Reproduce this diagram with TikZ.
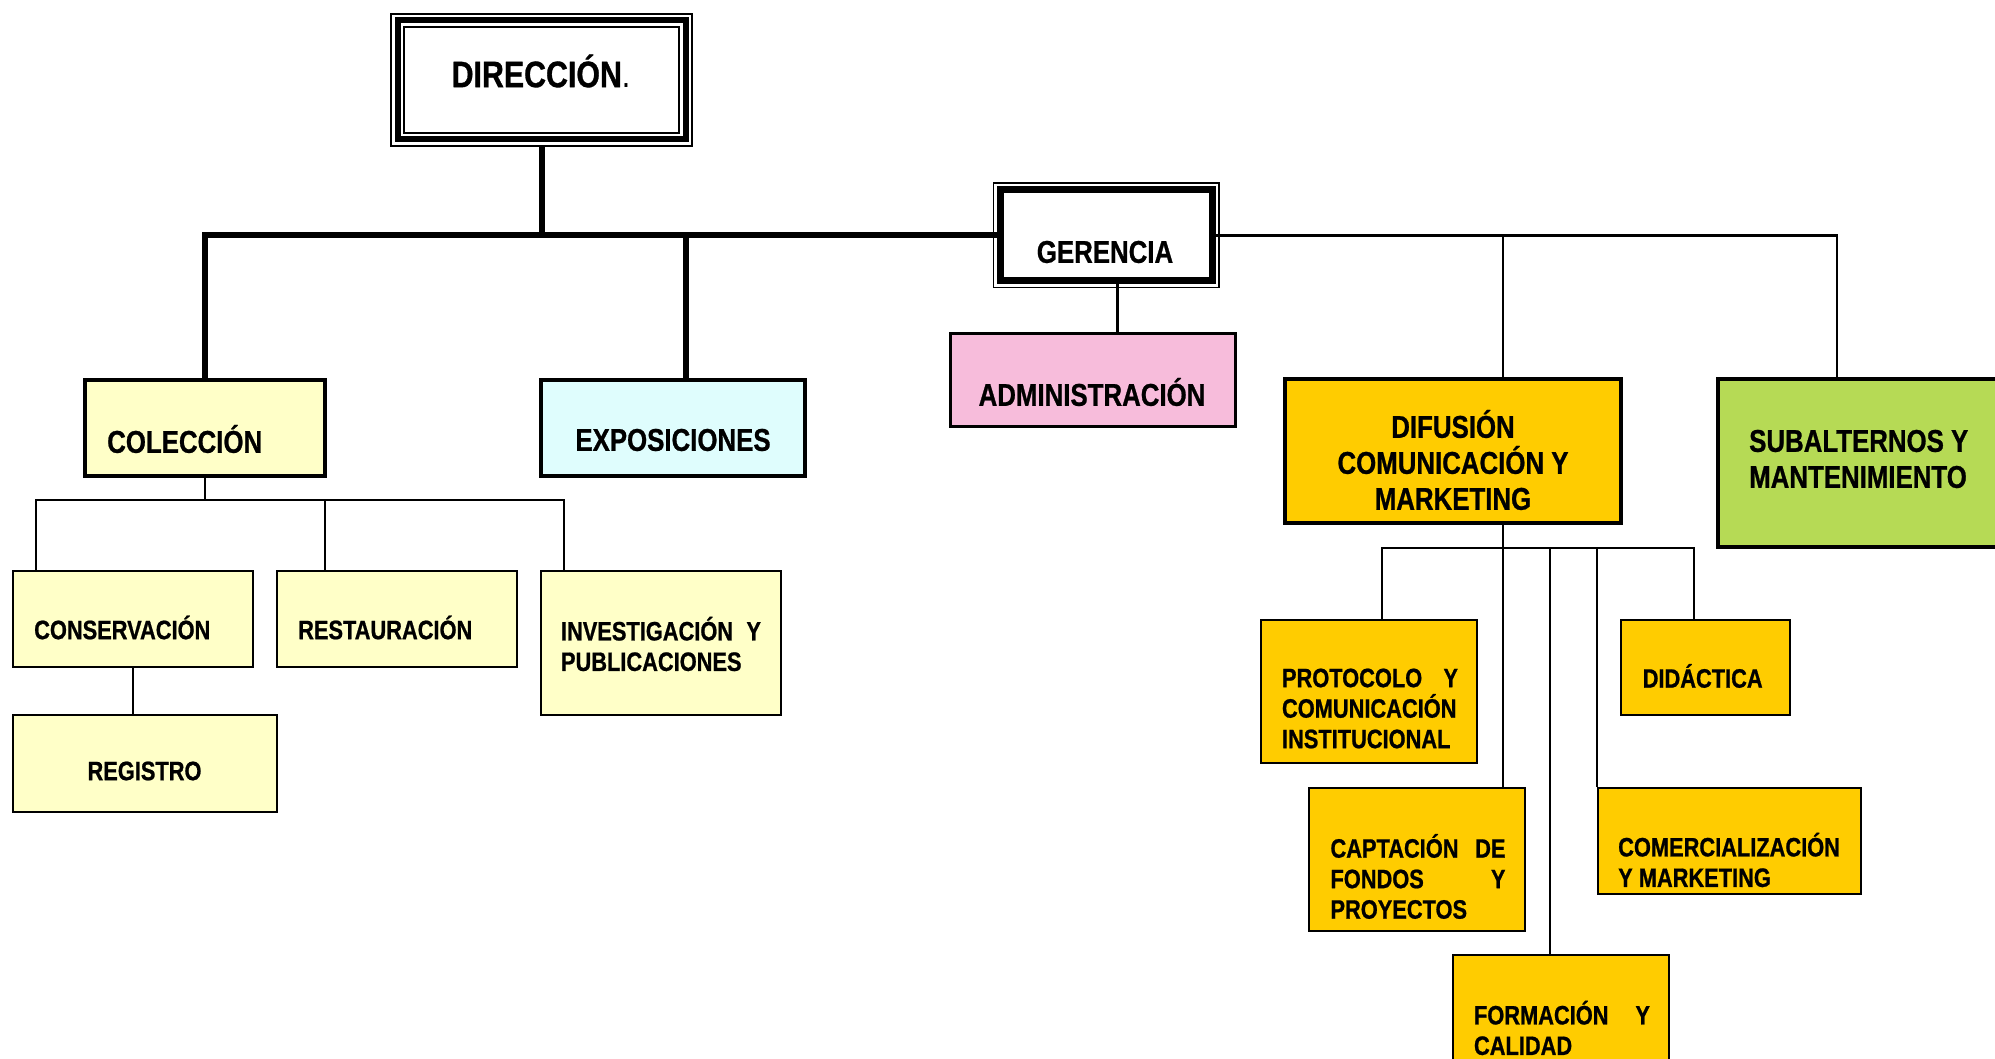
\documentclass[tikz,border=0pt]{standalone}
\usepackage{fontspec}
\setmainfont{Liberation Sans}[FakeStretch=0.82, BoldFeatures={FakeBold=0.8}]
\definecolor{colyellow}{HTML}{FFFFC8}
\definecolor{colcyan}{HTML}{DFFDFD}
\definecolor{colpink}{HTML}{F7BCDB}
\definecolor{colgreen}{HTML}{B6DA55}
\definecolor{colorange}{HTML}{FFCC00}

\begin{document}
\begin{tikzpicture}[x=1pt,y=-1pt,
    every node/.style={inner sep=0pt},
    mainbox/.style={draw, line width=3.5pt},
    subbox/.style={draw, line width=2pt},
    txt/.style={font=\bfseries\fontsize{31.5}{36}\selectfont},
    stxt/.style={font=\bfseries\fontsize{26.6}{30.5}\selectfont},
    heavy/.style={line width=6pt},
    light/.style={line width=2pt}]
        \useasboundingbox (0,0) rectangle (1995,1059);
        \node[draw, line width=6pt, preaction={draw, line width=2pt, double, double distance=11pt},
              minimum width=288pt, minimum height=119pt] (dir) at (541.5,80) {};
        \node[font=\bfseries\fontsize{37}{42}\selectfont] (dirtxt) at (541,71) {DIRECCIÓN{\mdseries .}};
        \node[draw, fill=white, line width=7pt, preaction={draw, line width=1.5pt, double, double distance=12pt},
              minimum width=212pt, minimum height=91pt] (ger) at (1106,235.5) {};
        \node[txt] (gertxt) at (1105,252) {GERENCIA};

        \node[mainbox, fill=colyellow, minimum width=240pt, minimum height=96pt] (col) at (205,428) {};
        \node[txt, anchor=west] (coltxt) at (107,439) {COLECCIÓN};
        \node[mainbox, fill=colcyan, minimum width=264pt, minimum height=96pt] (expo) at (673,428) {};
        \node[txt] (expotxt) at (673,440) {EXPOSICIONES};
        \node[mainbox, fill=colpink, minimum width=285pt, minimum height=93pt] (adm) at (1093,380) {};
        \node[txt] (admtxt) at (1092,392) {ADMINISTRACIÓN};
        \node[mainbox, fill=colorange, minimum width=336pt, minimum height=144pt] (dif) at (1453,451) {};
        \node[txt, align=center] (diftxt) at (1453,460) {DIFUSIÓN\\COMUNICACIÓN Y\\MARKETING};
        \node[mainbox, fill=colgreen, minimum width=292pt, minimum height=168pt] (subal) at (1864,463) {};
        \node[txt, align=left, anchor=west] (subaltxt) at (1749,459) {SUBALTERNOS Y\\MANTENIMIENTO};

        \node[subbox, fill=colyellow, minimum width=240pt, minimum height=96pt] (cons) at (133,619) {};
        \node[stxt, anchor=west] (constxt) at (34,627.5) {CONSERVACIÓN};
        \node[subbox, fill=colyellow, minimum width=240pt, minimum height=96pt] (rest) at (397,619) {};
        \node[stxt, anchor=west] (resttxt) at (298,627.5) {RESTAURACIÓN};
        \node[subbox, fill=colyellow, minimum width=240pt, minimum height=144pt] (inv) at (661,643) {};
        \node[stxt, align=left, text width=200pt] (invtxt) at (661,644) {INVESTIGACIÓN\hfill Y\\PUBLICACIONES};
        \node[subbox, fill=colyellow, minimum width=264pt, minimum height=97pt] (reg) at (145,763.5) {};
        \node[stxt] (regtxt) at (144.5,771) {REGISTRO};

        \node[subbox, fill=colorange, minimum width=216pt, minimum height=143pt] (prot) at (1369,691.5) {};
        \node[stxt, align=left, text width=176pt] (prottxt) at (1370,708.5) {PROTOCOLO\hfill Y\\COMUNICACIÓN\\INSTITUCIONAL};
        \node[subbox, fill=colorange, minimum width=216pt, minimum height=143pt] (capt) at (1417,859.5) {};
        \node[stxt, align=left, text width=175pt] (capttxt) at (1418,876.5) {CAPTACIÓN\hfill DE\\FONDOS\hfill Y\\PROYECTOS};
        \node[subbox, fill=colorange, minimum width=216pt, minimum height=143pt] (form) at (1561,1026.5) {};
        \node[stxt, align=left, text width=176pt] (formtxt) at (1562,1028) {FORMACIÓN\hfill Y\\CALIDAD};
        \node[subbox, fill=colorange, minimum width=169pt, minimum height=95pt] (did) at (1705.5,667.5) {};
        \node[stxt, anchor=west] (didtxt) at (1642.5,676) {DIDÁCTICA};
        \node[subbox, fill=colorange, minimum width=263pt, minimum height=106pt] (com) at (1729.5,841) {};
        \node[stxt, align=left, anchor=west] (comtxt) at (1618,860) {COMERCIALIZACIÓN\\Y MARKETING};

        \draw[heavy] ([yshift=-4.5pt]dir.south) -- (dir.south |- ger.west);
        \draw[heavy] (col.north) |- (ger.west);
        \draw[heavy] ([xshift=13pt]expo.north) -- ([xshift=13pt]expo.north |- ger.west);
        \draw[line width=2.5pt] (ger.east) -| ([xshift=-27pt]subal.north);
        \draw[line width=2.5pt] ([xshift=50pt]dif.north) -- ([xshift=50pt]dif.north |- ger.east);
        \draw[line width=3pt] ([xshift=11pt]ger.south) -- ([xshift=11pt]ger.south |- adm.north);

        \coordinate (colbus) at (205,500);
        \draw[light] (col.south) -- (colbus);
        \draw[light] ([xshift=24pt]cons.north west) |- (colbus) -| ([xshift=24pt]inv.north west);
        \draw[light] ([xshift=49pt]rest.north west) -- ([xshift=49pt]rest.north west |- colbus);
        \draw[light] (cons.south) -- (cons.south |- reg.north);

        \coordinate (difbus) at (1503,548);
        \draw[light] ([xshift=13pt]prot.north) |- (difbus) -| ([xshift=-12pt]did.north);
        \draw[light] ([xshift=50pt]dif.south) -- (difbus |- capt.north);
        \draw[light] ([xshift=-11pt]form.north) -- ([xshift=-11pt]form.north |- difbus);
        \draw[light] (com.north west) -- (com.north west |- difbus);
\end{tikzpicture}
\end{document}
